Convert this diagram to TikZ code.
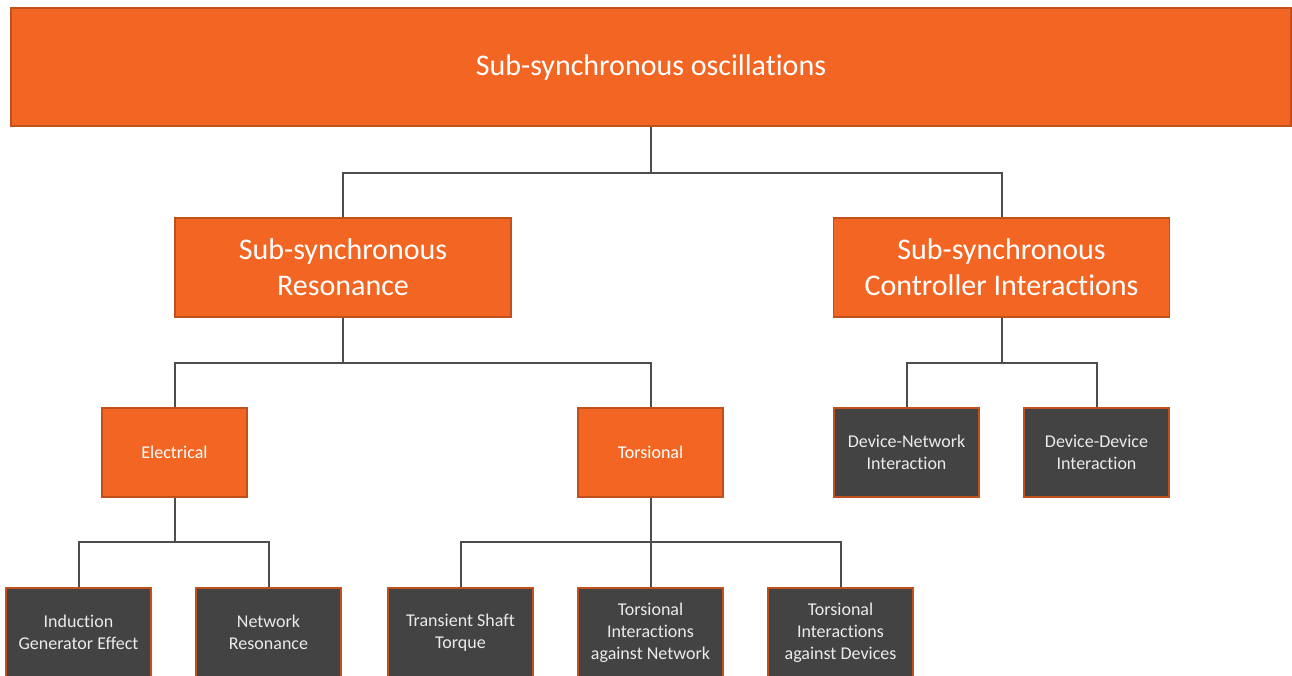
\documentclass[tikz,border=0pt]{standalone}
\usepackage{fontspec}
\setmainfont{Carlito}[Ligatures=NoCommon]
\definecolor{ssoorange}{HTML}{F36523}
\definecolor{ssoedge}{HTML}{C0501C}
\definecolor{ssodark}{HTML}{434343}
\definecolor{ssoline}{HTML}{4D4D4D}
\begin{document}
\begin{tikzpicture}[x=1pt, y=-1pt,
		orangebox/.style={draw=ssoedge, fill=ssoorange, line width=1.2pt, text=white, align=center, inner sep=0pt},
		darkbox/.style={draw=ssoedge, fill=ssodark, line width=1.2pt, text=black!8, align=center, inner sep=0pt,
			minimum width=145pt, minimum height=89pt, font=\fontsize{18}{22}\selectfont},
		link/.style={draw=ssoline, line width=2pt}]
		\useasboundingbox (0, 0) rectangle (1292, 675);

		\node[orangebox, minimum width=1280pt, minimum height=118pt, font=\fontsize{30}{36}\selectfont] (sso) at (651, 67) {Sub-synchronous oscillations};

		\node[orangebox, minimum width=336pt, minimum height=99pt, font=\fontsize{30}{36}\selectfont] (ssr) at (343, 267.5) {Sub-synchronous\\Resonance};
		\node[orangebox, minimum width=336pt, minimum height=99pt, font=\fontsize{30}{36}\selectfont] (ssci) at (1001.5, 267.5) {Sub-synchronous\\Controller Interactions};

		\node[orangebox, minimum width=145pt, minimum height=89pt, font=\fontsize{18}{22}\selectfont] (elec) at (174.5, 452.5) {Electrical};
		\node[orangebox, minimum width=145pt, minimum height=89pt, font=\fontsize{18}{22}\selectfont] (tors) at (650.5, 452.5) {Torsional};
		\node[darkbox] (devnet) at (906.5, 452.5) {Device-Network\\Interaction};
		\node[darkbox] (devdev) at (1096.5, 452.5) {Device-Device\\Interaction};

		\node[darkbox] (ige) at (78.5, 632.5) {Induction\\Generator Effect};
		\node[darkbox] (netres) at (268.5, 632.5) {Network\\Resonance};
		\node[darkbox] (shaft) at (460.5, 632.5) {Transient Shaft\\Torque};
		\node[darkbox] (tinet) at (650.5, 632.5) {Torsional\\Interactions\\against Network};
		\node[darkbox] (tidev) at (840.5, 632.5) {Torsional\\Interactions\\against Devices};

		\foreach \child in {ssr, ssci}
		\draw[link] (sso.south) -- ++(0, 46) -| (\child.north);

		\foreach \child in {elec, tors}
		\draw[link] (ssr.south) -- ++(0, 45) -| (\child.north);

		\foreach \child in {devnet, devdev}
		\draw[link] (ssci.south) -- ++(0, 45) -| (\child.north);

		\foreach \child in {ige, netres}
		\draw[link] (elec.south) -- ++(0, 44) -| (\child.north);

		\foreach \child in {shaft, tinet, tidev}
		\draw[link] (tors.south) -- ++(0, 44) -| (\child.north);

	\end{tikzpicture}
\end{document}
